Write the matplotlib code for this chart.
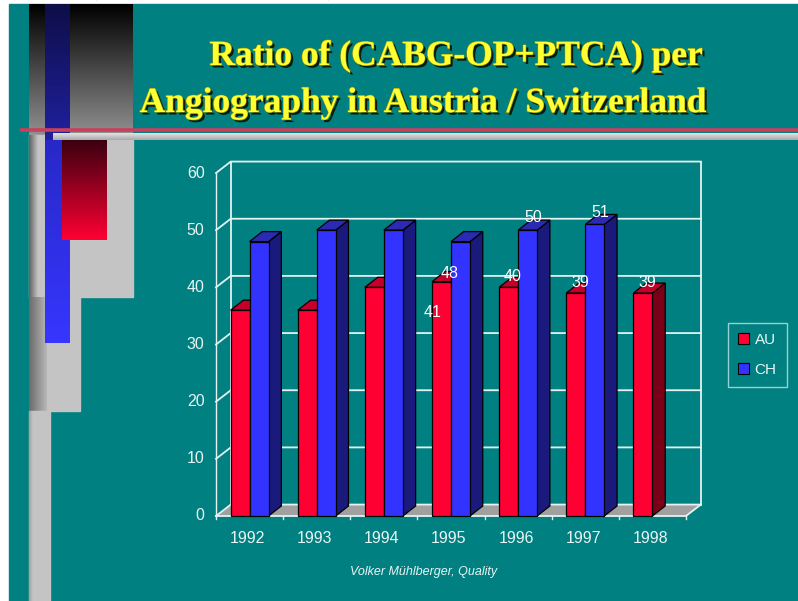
import numpy as np
import matplotlib.pyplot as plt
import matplotlib.patheffects as pe
from matplotlib.patches import Rectangle, Polygon, Patch
from matplotlib.colors import to_rgb

plt.rcParams['font.family'] = ['Liberation Sans', 'DejaVu Sans']

# data
years = ['1992', '1993', '1994', '1995', '1996', '1997', '1998']
au = [36, 36, 40, 41, 40, 39, 39]
ch = [48, 50, 50, 48, 50, 51, np.nan]
series_names = ['AU', 'CH']
y_ticks = [0, 10, 20, 30, 40, 50, 60]
# the data labels that are printed on the slide: (series, year index)
labelled = [(0, 3), (1, 3), (0, 4), (1, 4), (0, 5), (1, 5), (0, 6)]
# where Excel put them, relative to bar (x in groups, y in values)
label_offsets = [(-0.28, -5.4), (-0.02, -5.6), (-0.09, 1.9), (0.22, 2.3),
                 (-0.08, 1.9), (0.22, 2.1), (-0.07, 1.9)]

teal = '#008080'
face_cols = {0: ('#ff0033', '#c4002a', '#7a0018'),
             1: ('#3333ff', '#2a2ab4', '#1a1a7c')}
grid_c = '#e4f2f2'

W, H = 798, 601
fig = plt.figure(figsize=(W / 100, H / 100), dpi=100)
fig.patch.set_facecolor('white')

# ---- slide background (pixel coordinates, y from top)
bg = fig.add_axes([0, 0, 1, 1])
bg.axis('off')
bg.add_patch(Rectangle((9, 4), W - 9, H - 4, color=teal, zorder=0))


def grad(x0, x1, y0, y1, c0, c1, z=1, horizontal=False):
    t = np.linspace(0, 1, 128)[:, None, None]
    a, b = np.array(to_rgb(c0)), np.array(to_rgb(c1))
    img = a + (b - a) * t
    if horizontal:
        img = img.transpose(1, 0, 2)
    bg.imshow(img, extent=(x0, x1, y1, y0), origin='upper', aspect='auto',
              zorder=z, interpolation='bilinear')


# left-hand decoration
grad(29, 133, 4, 135, '#000000', '#909090', z=1)
bg.add_patch(Rectangle((29, 135), 104, 162, color='#c4c4c4', zorder=1))
grad(29, 38, 135, 297, '#606060', '#c4c4c4', z=1.1, horizontal=True)
bg.add_patch(Rectangle((47, 297), 33, 114, color='#c4c4c4', zorder=1))
grad(29, 47, 297, 411, '#6a6a6a', '#b8b8b8', z=1.2, horizontal=True)
bg.add_patch(Rectangle((29, 411), 21, H - 411, color='#c4c4c4', zorder=1.2))
grad(29, 33, 411, H, '#a0a0a0', '#c4c4c4', z=1.3, horizontal=True)
grad(45, 70, 4, 140, '#0e0e48', '#2020a0', z=2)
grad(45, 70, 140, 343, '#2828c8', '#3636ff', z=2)
grad(62, 107, 140, 240, '#3a0010', '#ff0033', z=3)
bg.plot([20, W], [130, 130], color='#c8405c', lw=2.6, zorder=4,
        solid_capstyle='butt')
grad(53, W, 133, 140, '#e4e4e4', '#a8a8a8', z=5)
bg.set_xlim(0, W)
bg.set_ylim(H, 0)

# ---- title
shadow = [pe.SimplePatchShadow(offset=(1.8, -1.8), shadow_rgbFace='#101000', alpha=0.9),
          pe.Stroke(linewidth=0.8, foreground='#9a9a00'), pe.Normal()]
fig.text(456 / W, 1 - 65 / H, 'Ratio of (CABG-OP+PTCA) per', ha='center',
         va='baseline', fontsize=25.5, family='Liberation Serif',
         weight='bold', color='#ffff33', path_effects=shadow)
fig.text(423 / W, 1 - 112 / H, 'Angiography in Austria / Switzerland',
         ha='center', va='baseline', fontsize=25.5, family='Liberation Serif',
         weight='bold', color='#ffff33', path_effects=shadow)
# page header cut off at the very top (only descenders show)
fig.text(88 / W, 1 + 6 / H, '(CABG-OP+PTCA) per Angiography', ha='left',
         va='baseline', fontsize=21, family='Liberation Serif',
         weight='bold', color='black', zorder=0.5)

# ---- pseudo 3D column chart
ax = fig.add_axes([216 / W, 1 - 516 / H, 470 / W, 343 / H])
ax.set_xlim(-0.5, 6.5)
ax.set_ylim(0, 60)
ax.axis('off')

n = len(years)
wdx, wdy = 0.22, 2.0     # depth of walls
bdx, bdy = 0.19, 1.75    # depth of bars
bw = 0.283               # bar width (group units)
x_l, x_r = -0.5, n - 0.5

ax.add_patch(Polygon([(x_l, 0), (x_r, 0), (x_r + wdx, wdy), (x_l + wdx, wdy)],
                     closed=True, facecolor='#a0a0a0', edgecolor='none',
                     zorder=1, clip_on=False))
for v in y_ticks:
    ax.plot([x_l, x_l + wdx, x_r + wdx], [v, v + wdy, v + wdy], color=grid_c,
            lw=1.3, zorder=1.5, clip_on=False)
    ax.text(x_l - 0.17, v, str(v), ha='right', va='center', fontsize=11.5,
            color='#eaf4f4')
for xx in (x_l + wdx, x_r + wdx):
    ax.plot([xx, xx], [wdy, y_ticks[-1] + wdy], color=grid_c, lw=1.3,
            zorder=1.5, clip_on=False)
ax.plot([x_l, x_l], [0, y_ticks[-1]], color=grid_c, lw=1.0, zorder=1.5,
        clip_on=False)
ax.plot([x_l, x_r, x_r + wdx], [0, 0, wdy], color=grid_c, lw=1.3, zorder=1.6,
        clip_on=False)
for k in range(n + 1):
    ax.plot([x_l + k, x_l + k], [0, -0.6], color=grid_c, lw=1.0,
            clip_on=False)


def bar3d(x0, v, cols):
    front, top, side = cols
    kw = dict(edgecolor='black', lw=0.9, zorder=3, clip_on=False)
    ax.add_patch(Polygon([(x0 + bw, 0), (x0 + bw + bdx, bdy),
                          (x0 + bw + bdx, v + bdy), (x0 + bw, v)],
                         facecolor=side, **kw))
    ax.add_patch(Polygon([(x0, v), (x0 + bw, v), (x0 + bw + bdx, v + bdy),
                          (x0 + bdx, v + bdy)], facecolor=top, **kw))
    ax.add_patch(Rectangle((x0, 0), bw, v, facecolor=front, **kw))


for i in range(n):
    for s, vals in enumerate([au, ch]):
        v = vals[i]
        if np.isnan(v):
            continue
        bar3d(i - bw + s * bw, v, face_cols[s])
    ax.text(i - 0.03, -3.85, years[i], ha='center', va='center',
            fontsize=11.5, color='#eaf4f4')

for (s, i), (ox, oy) in zip(labelled, label_offsets):
    v = [au, ch][s][i]
    ax.text(i + ox, v + oy, str(int(v)), ha='center', va='center',
            fontsize=11.5, color='white', zorder=6)

handles = [Patch(facecolor=face_cols[s][0], edgecolor='black', lw=0.8)
           for s in range(2)]
leg = ax.legend(handles, series_names, loc='upper left',
                bbox_to_anchor=(728 / W, 1 - 323 / H),
                bbox_transform=fig.transFigure, frameon=True, fancybox=False,
                fontsize=11, labelcolor='#eaf4f4', handlelength=0.75,
                handleheight=0.75, handletextpad=0.35, labelspacing=1.05,
                borderpad=0.65, borderaxespad=0)
leg.get_frame().set_facecolor('none')
leg.get_frame().set_edgecolor('#bfe6e6')
leg.get_frame().set_linewidth(1.0)

fig.text(424 / W, 1 - 572 / H, 'Volker Mühlberger, Quality', ha='center',
         va='center', fontsize=9, style='italic', color='#eaf4f4')

fig.savefig('out.png', dpi=100)
